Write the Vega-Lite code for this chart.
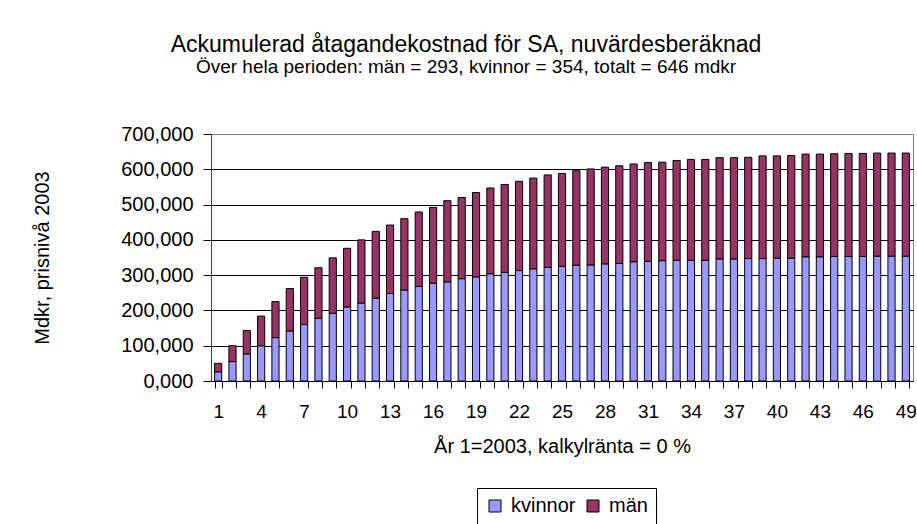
{
  "$schema": "https://vega.github.io/schema/vega-lite/v6.json",
  "width": 702,
  "height": 247,
  "autosize": {"type": "none"},
  "padding": {"left": 211, "top": 134, "right": 4, "bottom": 143},
  "background": "white",
  "config": {
    "font": "Liberation Sans",
    "locale": {"number": {"decimal": ",", "thousands": " ", "grouping": [3], "currency": ["", " kr"]}},
    "view": {"stroke": "#808080", "strokeWidth": 1}
  },
  "title": {
    "text": "Ackumulerad åtagandekostnad för SA, nuvärdesberäknad",
    "subtitle": "Över hela perioden: män = 293, kvinnor = 354, totalt = 646 mdkr",
    "anchor": "middle",
    "dx": -96,
    "offset": 47,
    "font": "Liberation Sans",
    "fontSize": 23,
    "fontWeight": "normal",
    "color": "black",
    "subtitleFont": "Liberation Sans",
    "subtitleFontSize": 19,
    "subtitleColor": "black",
    "subtitlePadding": 1
  },
  "data": {
    "values": [
      {"year": 1, "kon": "kvinnor", "mdkr": 26}, {"year": 1, "kon": "män", "mdkr": 24},
      {"year": 2, "kon": "kvinnor", "mdkr": 55}, {"year": 2, "kon": "män", "mdkr": 45},
      {"year": 3, "kon": "kvinnor", "mdkr": 77}, {"year": 3, "kon": "män", "mdkr": 66},
      {"year": 4, "kon": "kvinnor", "mdkr": 100}, {"year": 4, "kon": "män", "mdkr": 84},
      {"year": 5, "kon": "kvinnor", "mdkr": 123}, {"year": 5, "kon": "män", "mdkr": 102},
      {"year": 6, "kon": "kvinnor", "mdkr": 142}, {"year": 6, "kon": "män", "mdkr": 120},
      {"year": 7, "kon": "kvinnor", "mdkr": 160}, {"year": 7, "kon": "män", "mdkr": 134},
      {"year": 8, "kon": "kvinnor", "mdkr": 178}, {"year": 8, "kon": "män", "mdkr": 143},
      {"year": 9, "kon": "kvinnor", "mdkr": 192}, {"year": 9, "kon": "män", "mdkr": 157},
      {"year": 10, "kon": "kvinnor", "mdkr": 210}, {"year": 10, "kon": "män", "mdkr": 166},
      {"year": 11, "kon": "kvinnor", "mdkr": 221}, {"year": 11, "kon": "män", "mdkr": 179},
      {"year": 12, "kon": "kvinnor", "mdkr": 235}, {"year": 12, "kon": "män", "mdkr": 189},
      {"year": 13, "kon": "kvinnor", "mdkr": 248}, {"year": 13, "kon": "män", "mdkr": 194},
      {"year": 14, "kon": "kvinnor", "mdkr": 258}, {"year": 14, "kon": "män", "mdkr": 202},
      {"year": 15, "kon": "kvinnor", "mdkr": 268}, {"year": 15, "kon": "män", "mdkr": 211},
      {"year": 16, "kon": "kvinnor", "mdkr": 277}, {"year": 16, "kon": "män", "mdkr": 215},
      {"year": 17, "kon": "kvinnor", "mdkr": 281}, {"year": 17, "kon": "män", "mdkr": 230},
      {"year": 18, "kon": "kvinnor", "mdkr": 290}, {"year": 18, "kon": "män", "mdkr": 230},
      {"year": 19, "kon": "kvinnor", "mdkr": 295}, {"year": 19, "kon": "män", "mdkr": 239},
      {"year": 20, "kon": "kvinnor", "mdkr": 304}, {"year": 20, "kon": "män", "mdkr": 243},
      {"year": 21, "kon": "kvinnor", "mdkr": 308}, {"year": 21, "kon": "män", "mdkr": 249},
      {"year": 22, "kon": "kvinnor", "mdkr": 313}, {"year": 22, "kon": "män", "mdkr": 253},
      {"year": 23, "kon": "kvinnor", "mdkr": 318}, {"year": 23, "kon": "män", "mdkr": 257},
      {"year": 24, "kon": "kvinnor", "mdkr": 322}, {"year": 24, "kon": "män", "mdkr": 262},
      {"year": 25, "kon": "kvinnor", "mdkr": 325}, {"year": 25, "kon": "män", "mdkr": 263},
      {"year": 26, "kon": "kvinnor", "mdkr": 328}, {"year": 26, "kon": "män", "mdkr": 268},
      {"year": 27, "kon": "kvinnor", "mdkr": 329}, {"year": 27, "kon": "män", "mdkr": 272},
      {"year": 28, "kon": "kvinnor", "mdkr": 332}, {"year": 28, "kon": "män", "mdkr": 274},
      {"year": 29, "kon": "kvinnor", "mdkr": 333}, {"year": 29, "kon": "män", "mdkr": 277},
      {"year": 30, "kon": "kvinnor", "mdkr": 338}, {"year": 30, "kon": "män", "mdkr": 277},
      {"year": 31, "kon": "kvinnor", "mdkr": 339}, {"year": 31, "kon": "män", "mdkr": 280},
      {"year": 32, "kon": "kvinnor", "mdkr": 341}, {"year": 32, "kon": "män", "mdkr": 279},
      {"year": 33, "kon": "kvinnor", "mdkr": 342}, {"year": 33, "kon": "män", "mdkr": 283},
      {"year": 34, "kon": "kvinnor", "mdkr": 342}, {"year": 34, "kon": "män", "mdkr": 286},
      {"year": 35, "kon": "kvinnor", "mdkr": 342}, {"year": 35, "kon": "män", "mdkr": 286},
      {"year": 36, "kon": "kvinnor", "mdkr": 346}, {"year": 36, "kon": "män", "mdkr": 287},
      {"year": 37, "kon": "kvinnor", "mdkr": 346}, {"year": 37, "kon": "män", "mdkr": 287},
      {"year": 38, "kon": "kvinnor", "mdkr": 347}, {"year": 38, "kon": "män", "mdkr": 287},
      {"year": 39, "kon": "kvinnor", "mdkr": 347}, {"year": 39, "kon": "män", "mdkr": 291},
      {"year": 40, "kon": "kvinnor", "mdkr": 348}, {"year": 40, "kon": "män", "mdkr": 290},
      {"year": 41, "kon": "kvinnor", "mdkr": 348}, {"year": 41, "kon": "män", "mdkr": 291},
      {"year": 42, "kon": "kvinnor", "mdkr": 352}, {"year": 42, "kon": "män", "mdkr": 291},
      {"year": 43, "kon": "kvinnor", "mdkr": 352}, {"year": 43, "kon": "män", "mdkr": 291},
      {"year": 44, "kon": "kvinnor", "mdkr": 353}, {"year": 44, "kon": "män", "mdkr": 291},
      {"year": 45, "kon": "kvinnor", "mdkr": 353}, {"year": 45, "kon": "män", "mdkr": 292},
      {"year": 46, "kon": "kvinnor", "mdkr": 353}, {"year": 46, "kon": "män", "mdkr": 292},
      {"year": 47, "kon": "kvinnor", "mdkr": 354}, {"year": 47, "kon": "män", "mdkr": 292},
      {"year": 48, "kon": "kvinnor", "mdkr": 354}, {"year": 48, "kon": "män", "mdkr": 292},
      {"year": 49, "kon": "kvinnor", "mdkr": 354}, {"year": 49, "kon": "män", "mdkr": 292}
    ]
  },
  "mark": {"type": "bar", "stroke": "black", "strokeWidth": 1},
  "encoding": {
    "x": {
      "field": "year",
      "type": "ordinal",
      "scale": {"paddingInner": 0.5, "paddingOuter": 0.25},
      "axis": {
        "title": "År 1=2003, kalkylränta = 0 %",
        "titleFont": "Liberation Sans",
        "titleFontSize": 20,
        "titleFontWeight": "normal",
        "titleColor": "black",
        "titlePadding": 15,
        "labelAngle": 0,
        "labelFont": "Liberation Sans",
        "labelFontSize": 19,
        "labelColor": "black",
        "labelPadding": 14,
        "labelExpr": "(datum.value - 1) % 3 == 0 ? datum.label : ''",
        "tickBand": "extent",
        "tickSize": 7,
        "tickColor": "black",
        "domainColor": "black",
        "grid": false
      }
    },
    "y": {
      "field": "mdkr",
      "type": "quantitative",
      "stack": "zero",
      "scale": {"domain": [0, 700], "nice": false},
      "axis": {
        "title": "Mdkr, prisnivå 2003",
        "titleFont": "Liberation Sans",
        "titleFontSize": 20,
        "titleFontWeight": "normal",
        "titleColor": "black",
        "titlePadding": 68,
        "values": [0, 100, 200, 300, 400, 500, 600, 700],
        "format": ".3f",
        "labelFont": "Liberation Sans",
        "labelFontSize": 20,
        "labelColor": "black",
        "labelPadding": 10,
        "tickSize": 8,
        "tickColor": "black",
        "domainColor": "#404040",
        "grid": true,
        "gridColor": {"condition": {"test": "datum.value == 700", "value": "#808080"}, "value": "black"},
        "gridOpacity": 1
      }
    },
    "color": {
      "field": "kon",
      "type": "nominal",
      "scale": {"domain": ["kvinnor", "män"], "range": ["#9999FF", "#993366"]},
      "legend": {
        "title": null,
        "orient": "none",
        "direction": "horizontal",
        "legendX": 266,
        "legendY": 354,
        "symbolType": "square",
        "symbolSize": 144,
        "symbolStrokeColor": "black",
        "symbolStrokeWidth": 1,
        "symbolOpacity": 1,
        "labelFont": "Liberation Sans",
        "labelFontSize": 20,
        "labelColor": "black",
        "columnPadding": 7,
        "labelOffset": 6,
        "strokeColor": "black",
        "padding": 8
      }
    },
    "order": {"field": "kon", "sort": "ascending"}
  }
}
